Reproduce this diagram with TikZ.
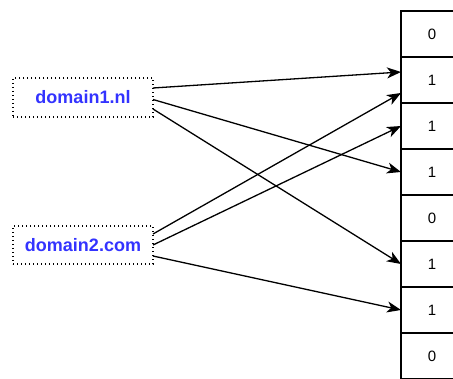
\documentclass[tikz,border=0pt]{standalone}
\usepackage{fontspec}
\setmainfont{Liberation Sans}
\usetikzlibrary{positioning,arrows.meta}
\definecolor{DomBlue}{RGB}{51,51,255}

\begin{document}
\begin{tikzpicture}[
        x=1pt, y=1pt,
        node distance=0pt,
        bitcell/.style={
            minimum width=62pt,
            minimum height=46pt,
            outer sep=0pt,
            inner sep=0pt,
            font=\fontsize{15}{17}\selectfont
        },
        cellline/.style={
            draw=black,
            line width=1.4pt
        },
        domainbox/.style={
            draw=black,
            line width=1.2pt,
            dash pattern=on 1.2pt off 2.8pt,
            minimum width=140pt,
            outer sep=0pt,
            text=DomBlue,
            font=\bfseries\fontsize{18}{20}\selectfont
        },
        hashto/.style={
            draw=black,
            line width=1.3pt,
            -{Stealth[length=14pt,width=11pt,inset=4pt]}
        }
    ]
        \useasboundingbox (0,0) rectangle (453,378);
        % bit array
        \node[bitcell] (bit0) at (432,344) {0};
        \node[bitcell, below=of bit0] (bit1) {1};
        \node[bitcell, below=of bit1] (bit2) {1};
        \node[bitcell, below=of bit2] (bit3) {1};
        \node[bitcell, below=of bit3] (bit4) {0};
        \node[bitcell, below=of bit4] (bit5) {1};
        \node[bitcell, below=of bit5] (bit6) {1};
        \node[bitcell, below=of bit6] (bit7) {0};
        \draw[cellline] (bit0.north west) ++(52,0) -| (bit7.south west) -- ++(52,0);
        \foreach \i in {0,...,6}
            \draw[cellline] (bit\i.south west) -- ++(52,0);
        % keys
        \node[domainbox, minimum height=39pt] (dom1) at (83,280.5) {domain1.nl};
        \node[domainbox, minimum height=38pt] (dom2) at (83,133) {domain2.com};
        % hash functions
        \draw[hashto] ([yshift=9.5pt]dom1.east) -- ([yshift=8pt]bit1.west);
        \draw[hashto] ([yshift=-2pt]dom1.east) -- (bit3.west);
        \draw[hashto] ([yshift=-11.5pt]dom1.east) -- (bit5.west);
        \draw[hashto] ([yshift=11pt]dom2.east) -- ([yshift=-13pt]bit1.west);
        \draw[hashto] (dom2.east) -- (bit2.west);
        \draw[hashto] ([yshift=-11pt]dom2.east) -- (bit6.west);
    \end{tikzpicture}
\end{document}
